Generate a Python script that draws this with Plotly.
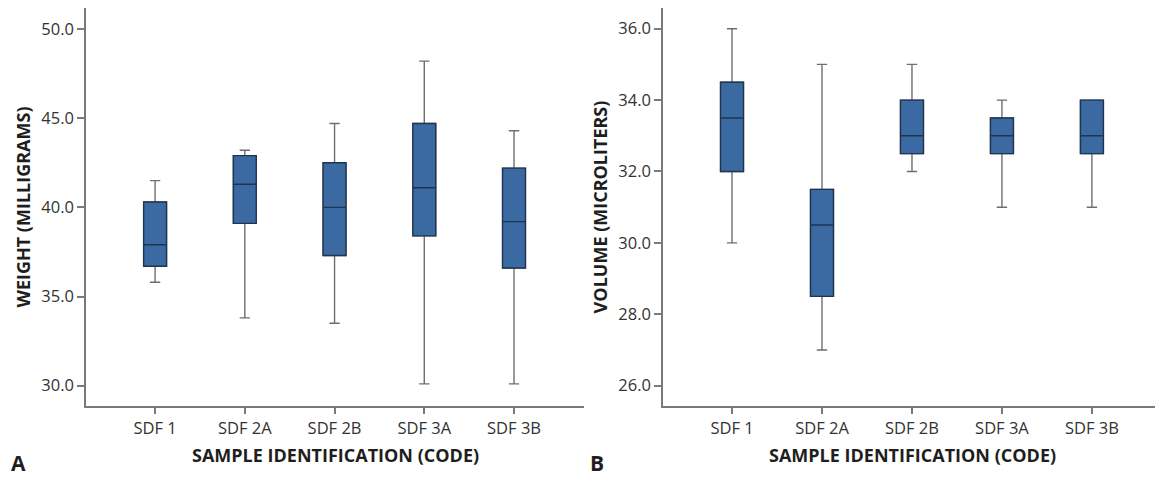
import plotly.graph_objects as go

categories = ["SDF 1", "SDF 2A", "SDF 2B", "SDF 3A", "SDF 3B"]

# Panel A: weight (milligrams)
w_low = [35.8, 33.8, 33.5, 30.1, 30.1]
w_q1 = [36.7, 39.1, 37.3, 38.4, 36.6]
w_med = [37.9, 41.3, 40.0, 41.1, 39.2]
w_q3 = [40.3, 42.9, 42.5, 44.7, 42.2]
w_high = [41.5, 43.2, 44.7, 48.2, 44.3]

# Panel B: volume (microliters)
v_low = [30.0, 27.0, 32.0, 31.0, 31.0]
v_q1 = [32.0, 28.5, 32.5, 32.5, 32.5]
v_med = [33.5, 30.5, 33.0, 33.0, 33.0]
v_q3 = [34.5, 31.5, 34.0, 33.5, 34.0]
v_high = [36.0, 35.0, 35.0, 34.0, 34.0]

XTITLE = "SAMPLE IDENTIFICATION (CODE)"

FILL = "#3b6aa3"
EDGE = "#1f344f"
WHISK = "#6e6e6e"
AX = "#7a7a7a"
FONT = "Open Sans"

# page body has an 8px margin; figure sized to fit the window
OFF = 8
W, H = 1163 - OFF, 481 - OFF


def px_x(x):
    return (x - OFF) / W


def px_y(y):
    return 1 - (y - OFF) / H


fig = go.Figure()


def add_panel(xa, ya, low, q1, med, q3, high):
    # whiskers with caps
    fig.add_trace(go.Box(
        x=categories, q1=q1, median=med, q3=q3, lowerfence=low, upperfence=high,
        fillcolor=FILL, line=dict(color=WHISK, width=1.4), width=0.255,
        whiskerwidth=0.45, xaxis=xa, yaxis=ya, showlegend=False, hoverinfo="skip",
    ))
    # box body with dark outline
    fig.add_trace(go.Box(
        x=categories, q1=q1, median=med, q3=q3, lowerfence=q1, upperfence=q3,
        fillcolor=FILL, line=dict(color=EDGE, width=1.4), width=0.255,
        whiskerwidth=0, xaxis=xa, yaxis=ya, showlegend=False,
    ))


add_panel("x", "y", w_low, w_q1, w_med, w_q3, w_high)
add_panel("x2", "y2", v_low, v_q1, v_med, v_q3, v_high)

tickfont = dict(family=FONT, size=16.5, color="#333333")
titlefont = dict(family=FONT, size=18, color="#1e1e1e", weight="bold")

xcommon = dict(
    type="category", categoryorder="array", categoryarray=categories,
    showline=True, linecolor=AX, linewidth=1.5, ticks="outside", ticklen=6,
    tickcolor=AX, tickwidth=1.5, showgrid=False, zeroline=False,
    tickfont=tickfont, fixedrange=True,
)
ycommon = dict(
    showline=True, linecolor=AX, linewidth=1.5, ticks="outside", ticklen=7,
    tickcolor=AX, tickwidth=1.5, showgrid=False, zeroline=False,
    tickfont=tickfont, tickformat=".1f", fixedrange=True,
)

ydom = [px_y(406), px_y(8)]
xdom1 = [px_x(86), px_x(584)]
xdom2 = [px_x(663), 1.0]

fig.update_layout(
    width=W, height=H,
    margin=dict(l=0, r=0, t=0, b=0),
    paper_bgcolor="white", plot_bgcolor="white",
    boxmode="overlay",
    xaxis=dict(xcommon, domain=xdom1, range=[-0.77, 4.78], anchor="y"),
    xaxis2=dict(xcommon, domain=xdom2, range=[-0.767, 4.79], anchor="y2"),
    yaxis=dict(ycommon, domain=ydom, range=[28.86, 51.18], dtick=5,
               anchor="x",
               title=dict(text="WEIGHT (MILLIGRAMS)", font=titlefont, standoff=6)),
    yaxis2=dict(ycommon, domain=ydom, range=[25.43, 36.58], dtick=2,
                anchor="x2",
                title=dict(text="VOLUME (MICROLITERS)", font=titlefont, standoff=6)),
    annotations=[
        dict(text=XTITLE, x=px_x(335), y=px_y(455), xref="paper", yref="paper",
             xanchor="center", yanchor="middle", showarrow=False, font=titlefont),
        dict(text=XTITLE, x=px_x(912), y=px_y(455), xref="paper", yref="paper",
             xanchor="center", yanchor="middle", showarrow=False, font=titlefont),
        dict(text="A", x=px_x(18), y=px_y(463), xref="paper", yref="paper",
             xanchor="center", yanchor="middle", showarrow=False,
             font=dict(family=FONT, size=21, color="#1e1e1e", weight="bold")),
        dict(text="B", x=px_x(597), y=px_y(463), xref="paper", yref="paper",
             xanchor="center", yanchor="middle", showarrow=False,
             font=dict(family=FONT, size=21, color="#1e1e1e", weight="bold")),
    ],
)

fig.write_html("out.html")
